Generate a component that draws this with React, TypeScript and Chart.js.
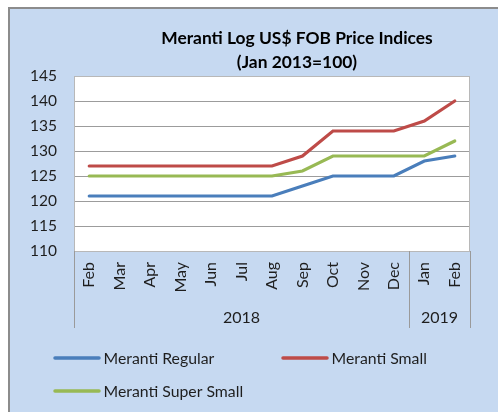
import React, { useEffect, useRef } from 'react';
import { Chart, registerables } from 'chart.js';

Chart.register(...registerables);

const months = ['Feb', 'Mar', 'Apr', 'May', 'Jun', 'Jul', 'Aug', 'Sep', 'Oct', 'Nov', 'Dec', 'Jan', 'Feb'];
const yearLabels = ['2018', '2019'];
const yearSpans = [11, 2];
const merantiRegular = [121, 121, 121, 121, 121, 121, 121, 123, 125, 125, 125, 128, 129];
const merantiSmall = [127, 127, 127, 127, 127, 127, 127, 129, 134, 134, 134, 136, 140];
const merantiSuperSmall = [125, 125, 125, 125, 125, 125, 125, 126, 129, 129, 129, 129, 132];
const seriesNames = ['Meranti Regular', 'Meranti Small', 'Meranti Super Small'];
const titleLines = ['Meranti Log US$ FOB Price Indices', '(Jan 2013=100)'];
const yMin = 110;
const yMax = 145;
const yStep = 5;

const FONT = 'Lato, "Noto Sans", sans-serif';
const TEXT = '#1e1e1e';

const decorPlugin = {
  id: 'decor',
  beforeDraw(chart: any) {
    const { ctx, chartArea: a } = chart;
    ctx.save();
    ctx.fillStyle = '#ffffff';
    ctx.fillRect(a.left, a.top, a.right - a.left, a.bottom - a.top);
    ctx.restore();
  },
  beforeDatasetsDraw(chart: any) {
    const { ctx, chartArea: a } = chart;
    ctx.save();
    ctx.strokeStyle = '#b8b8b8';
    ctx.lineWidth = 1;
    ctx.strokeRect(a.left + 0.5, a.top + 0.5, a.right - a.left - 1, a.bottom - a.top);
    ctx.restore();
  },
  afterDraw(chart: any) {
    const { ctx, chartArea: a } = chart;
    const xs = chart.scales.x;
    ctx.save();
    // title
    ctx.fillStyle = '#000';
    ctx.textAlign = 'center';
    ctx.textBaseline = 'alphabetic';
    ctx.font = `bold 17.4px ${FONT}`;
    ctx.fillText(titleLines[0], 287, 34.5);
    ctx.fillText(titleLines[1], 287, 58.5);

    // year group separators and labels
    const half = (xs.getPixelForValue(1) - xs.getPixelForValue(0)) / 2;
    const bounds: number[] = [a.left];
    let idx = 0;
    for (const span of yearSpans) {
      idx += span;
      bounds.push(idx >= months.length ? a.right : xs.getPixelForValue(idx) - half);
    }
    ctx.strokeStyle = '#9a9a9a';
    ctx.lineWidth = 1;
    ctx.beginPath();
    for (const b of bounds) {
      const x = Math.round(b) + 0.5;
      ctx.moveTo(x, a.bottom);
      ctx.lineTo(x, a.bottom + 77);
    }
    ctx.stroke();
    ctx.fillStyle = TEXT;
    ctx.font = `16px ${FONT}`;
    for (let i = 0; i < yearLabels.length; i++) {
      ctx.fillText(yearLabels[i], (bounds[i] + bounds[i + 1]) / 2, a.bottom + 72);
    }

    // legend
    const pos = [
      [45, 349],
      [273, 349],
      [45, 382],
    ];
    ctx.textAlign = 'left';
    ctx.font = `15.8px ${FONT}`;
    chart.data.datasets.forEach((ds: any, i: number) => {
      const [x, y] = pos[i];
      ctx.strokeStyle = ds.borderColor;
      ctx.lineWidth = 3.5;
      ctx.lineCap = 'round';
      ctx.beginPath();
      ctx.moveTo(x, y);
      ctx.lineTo(x + 44, y);
      ctx.stroke();
      ctx.fillStyle = TEXT;
      ctx.fillText(ds.label, x + 48.5, y + 6);
    });
    ctx.restore();
  },
};

export default function App() {
  const ref = useRef<HTMLCanvasElement | null>(null);
  useEffect(() => {
    if (!ref.current) return;
    const chart = new Chart(ref.current, {
      type: 'line',
      data: {
        labels: months,
        datasets: [
          { label: seriesNames[0], data: merantiRegular, borderColor: '#4a7ebb' },
          { label: seriesNames[1], data: merantiSmall, borderColor: '#be4b48' },
          { label: seriesNames[2], data: merantiSuperSmall, borderColor: '#98b954' },
        ].map((d) => ({ ...d, borderWidth: 3.2, pointRadius: 0, tension: 0, fill: false, borderCapStyle: 'round' as const })),
      },
      options: {
        animation: false,
        responsive: false,
        layout: { padding: { top: 67, left: 0, right: 28, bottom: 81 } },
        plugins: { legend: { display: false }, title: { display: false }, tooltip: { enabled: false } },
        scales: {
          x: {
            type: 'category',
            offset: true,
            grid: { display: false, drawTicks: false },
            border: { display: false },
            ticks: {
              color: TEXT,
              font: { family: FONT, size: 16 },
              minRotation: 90,
              maxRotation: 90,
              padding: 11,
              autoSkip: false,
            },
            afterFit: (s: any) => {
              s.height = 80;
            },
          },
          y: {
            min: yMin,
            max: yMax,
            grid: {
              color: (c: any) => (c.tick && c.tick.value === yMax ? '#b8b8b8' : '#9c9c9c'),
              lineWidth: 1,
              drawTicks: false,
            },
            border: { display: false },
            ticks: { stepSize: yStep, color: TEXT, font: { family: FONT, size: 15.5 }, padding: 17 },
            afterFit: (s: any) => {
              s.width = 64;
            },
          },
        },
      },
      plugins: [decorPlugin],
    });
    return () => chart.destroy();
  }, []);
  return (
    <div
      style={{
        position: 'fixed',
        left: 8,
        top: 7,
        width: 500,
        height: 420,
        background: '#c6d9f1',
        borderTop: '2px solid #8c8c8c',
        borderLeft: '2px solid #8c8c8c',
      }}
    >
      <canvas ref={ref} width={488} height={403} style={{ display: 'block', width: 488, height: 403 }} />
    </div>
  );
}
